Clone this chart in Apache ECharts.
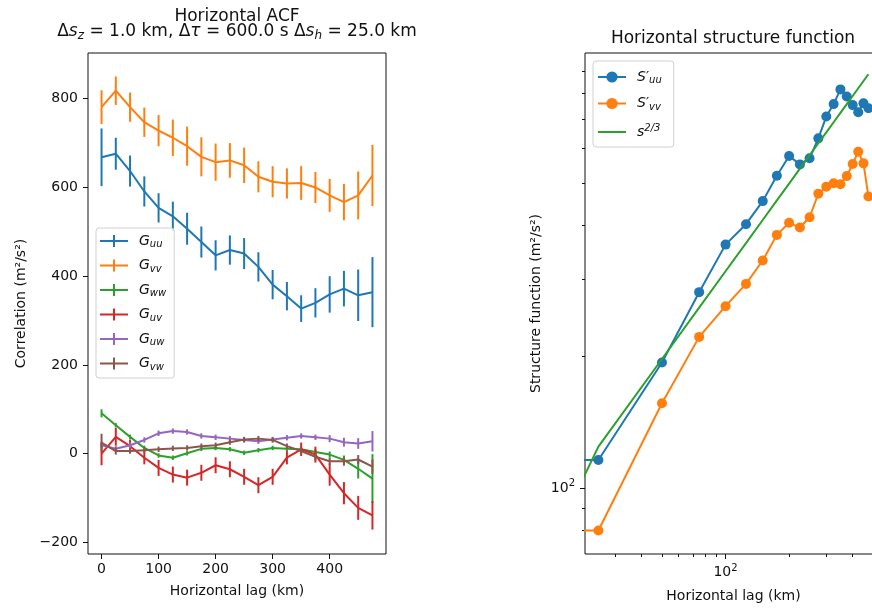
<!DOCTYPE html>
<html>
<head>
<meta charset="utf-8">
<script src="https://cdn.jsdelivr.net/npm/echarts@6/dist/echarts.min.js"></script>
<style>
html, body { margin: 0; background: #fff; }
#main { width: 872px; height: 608px; }
</style>
</head>
<body>
<div id="main"></div>
<script>
// Horizontal ACF (left) + horizontal structure function (right, log-log)
var FONT = 'DejaVu Sans';
var INK = '#111';

// ---- left panel: ACF with error bars
var lag = [0, 25, 50, 75, 100, 125, 150, 175, 200, 225, 250, 275, 300, 325, 350, 375, 400, 425, 450, 475];
var Guu = [668, 676, 637, 591, 554, 535, 507, 477, 447, 459, 451, 421, 381, 355, 327, 340, 359, 372, 357, 364];
var GuuErr = [65, 36, 35, 34, 33, 33, 36, 35, 34, 33, 35, 33, 33, 32, 30, 33, 41, 40, 58, 79];
var Gvv = [781, 818, 781, 747, 728, 712, 693, 669, 657, 661, 650, 624, 613, 609, 610, 600, 582, 567, 582, 627];
var GvvErr = [38, 32, 33, 33, 35, 41, 44, 44, 42, 39, 40, 35, 35, 34, 38, 35, 37, 41, 54, 69];
var Gww = [91, 64, 38, 13, -4, -9, 1, 11, 13, 10, 2, 8, 13, 11, 10, 4, -2, -14, -34, -56];
var GwwErr = [9, 5, 5, 5, 5, 5, 5, 5, 5, 5, 5, 5, 5, 5, 5, 6, 7, 10, 22, 55];
var Guv = [0, 38, 17, -9, -32, -47, -54, -43, -26, -35, -52, -71, -52, -9, 10, -2, -47, -89, -122, -139];
var GuvErr = [26, 20, 15, 15, 18, 18, 18, 18, 18, 18, 18, 18, 18, 15, 15, 18, 25, 25, 27, 32];
var Guw = [19, 11, 19, 31, 46, 51, 49, 40, 37, 34, 31, 28, 32, 36, 40, 37, 34, 26, 23, 28];
var GuwErr = [6, 6, 6, 6, 6, 6, 6, 6, 6, 6, 6, 6, 6, 6, 6, 6, 8, 10, 12, 23];
var Gvw = [25, 6, 6, 8, 10, 12, 13, 17, 19, 26, 32, 34, 31, 17, 6, -7, -17, -17, -13, -29];
var GvwErr = [20, 8, 6, 6, 6, 6, 6, 6, 6, 6, 6, 6, 6, 6, 6, 8, 8, 10, 10, 16];
var acfTicksX = [0, 100, 200, 300, 400];
var acfTicksY = [-200, 0, 200, 400, 600, 800];

// ---- right panel: structure function
var sLag = [0, 25, 50, 75, 100, 125, 150, 175, 200, 225, 250, 275, 300, 325, 350, 375, 400, 425, 450, 475];
var Suu = [116, 116, 194, 281, 361, 402, 454, 519, 576, 551, 569, 632, 709, 757, 818, 788, 753, 725, 760, 741];
var Svv = [80, 80, 156.5, 222, 261, 293.5, 332, 380, 405, 395, 417, 472, 490, 499, 496, 518, 552, 589, 554, 465];
var sFit = [0, 124.5, 197.6, 258.9, 313.7, 364, 411, 455.6, 498, 538.7, 577.9, 615.8, 652.4, 688, 723, 757, 790, 823, 855, 886];
var logMajor = [100];
var logMinorX = [30, 40, 50, 60, 70, 80, 90, 200, 300, 400, 500];
var logMinorY = [80, 90, 200, 300, 400, 500, 600, 700, 800, 900];

var names = ['Guu', 'Gvv', 'Gww', 'Guv', 'Guw', 'Gvw'];
var colors = ['#1f77b4', '#ff7f0e', '#2ca02c', '#d62728', '#9467bd', '#8c564b'];
var acf = [Guu, Gvv, Gww, Guv, Guw, Gvw];
var acfErr = [GuvErr, GvvErr, GwwErr, GuvErr, GuwErr, GvwErr];
acfErr[0] = GuuErr;

// log axes can't show 0: clip like matplotlib does
function pos(v) { return v > 0 ? v : 1e-300; }

var rich = {
  i: { fontStyle: 'italic', fontSize: 14, fontFamily: FONT, color: INK, verticalAlign: 'middle' },
  n: { fontSize: 14, fontFamily: FONT, color: INK, verticalAlign: 'middle' },
  sub: { fontStyle: 'italic', fontSize: 10, fontFamily: FONT, color: INK, padding: [7, 0, 0, 0], verticalAlign: 'middle' },
  sup: { fontStyle: 'italic', fontSize: 10, fontFamily: FONT, color: INK, padding: [0, 0, 8, 0], verticalAlign: 'middle' }
};
var titleRich = {
  i: { fontStyle: 'italic', fontSize: 17, fontFamily: FONT, color: INK, verticalAlign: 'middle' },
  n: { fontSize: 17, fontFamily: FONT, color: INK, verticalAlign: 'middle' },
  sub: { fontStyle: 'italic', fontSize: 12, fontFamily: FONT, color: INK, padding: [8, 0, 0, 0], verticalAlign: 'middle' }
};

var series = [];
names.forEach(function(n, k) {
  var c = colors[k];
  series.push({
    type: 'line', name: n, xAxisIndex: 0, yAxisIndex: 0,
    data: lag.map(function(x, i) { return [x, acf[k][i]]; }),
    symbol: 'none', lineStyle: { color: c, width: 2 }, itemStyle: { color: c },
    z: 2 + k, animation: false
  });
  series.push({
    type: 'custom', name: n, xAxisIndex: 0, yAxisIndex: 0,
    data: lag.map(function(x, i) { return [x, acf[k][i] - acfErr[k][i], acf[k][i] + acfErr[k][i]]; }),
    encode: { x: 0, y: [1, 2] },
    itemStyle: { color: c }, z: 2 + k, animation: false,
    renderItem: function(params, api) {
      var a = api.coord([api.value(0), api.value(1)]);
      var b = api.coord([api.value(0), api.value(2)]);
      return { type: 'line', shape: { x1: a[0], y1: a[1], x2: b[0], y2: b[1] },
        style: { stroke: c, lineWidth: 2 } };
    }
  });
});

function sfSeries(name, ys, color, marker, z) {
  return {
    type: 'line', name: name, xAxisIndex: 1, yAxisIndex: 1, clip: true,
    data: sLag.map(function(x, i) {
      var d = { value: [pos(x), pos(ys[i])] };
      if (x <= 0 || !marker) d.symbol = 'none';
      return d;
    }),
    symbol: marker ? 'circle' : 'none', symbolSize: 10, showAllSymbol: true,
    lineStyle: { color: color, width: 2 }, itemStyle: { color: color },
    z: z, animation: false
  };
}
series.push(sfSeries("S'uu", Suu, colors[0], true, 2));
series.push(sfSeries("S'vv", Svv, colors[1], true, 3));
series.push(sfSeries('s23', sFit, colors[2], false, 4));

var tickStyle = { show: true, inside: false, length: 5, lineStyle: { color: INK, width: 1 } };
var labelStyle = { color: INK, fontFamily: FONT, fontSize: 14 };
var nameStyle = { color: INK, fontFamily: FONT, fontSize: 14 };
var noLine = { show: false, onZero: false };

function minus(v) { return String(v).replace('-', '\u2212'); }
function logLabel(v) { return Math.abs(v - 100) < 1e-6 ? '10{sup|2}' : ''; }
var logRich = { sup: { fontSize: 10, fontFamily: FONT, color: INK, padding: [0, 0, 9, 0] } };

var chart = echarts.init(document.getElementById('main'), null, { renderer: 'canvas' });
chart.setOption({
  animation: false,
  backgroundColor: '#fff',
  title: [
    { text: 'Horizontal ACF', left: 237, top: 8, textAlign: 'center', padding: 0,
      textStyle: { fontFamily: FONT, fontSize: 17, fontWeight: 'normal', color: INK } },
    { text: '{n|Δ}{i|s}{sub|z}{n| = 1.0 km, Δ}{i|τ}{n| = 600.0 s Δ}{i|s}{sub|h}{n| = 25.0 km}',
      left: 237, top: 22, textAlign: 'center', padding: 0,
      textStyle: { fontFamily: FONT, fontSize: 17, fontWeight: 'normal', color: INK, rich: titleRich } },
    { text: 'Horizontal structure function', left: 733, top: 30, textAlign: 'center', padding: 0,
      textStyle: { fontFamily: FONT, fontSize: 17, fontWeight: 'normal', color: INK } }
  ],
  grid: [
    { left: 88, top: 53, width: 298, height: 501, show: true, borderColor: INK, borderWidth: 1,
      backgroundColor: 'transparent', outerBoundsMode: 'none', containLabel: false },
    { left: 585, top: 53, width: 297, height: 501, show: true, borderColor: INK, borderWidth: 1,
      backgroundColor: 'transparent', outerBoundsMode: 'none', containLabel: false }
  ],
  legend: [
    {
      orient: 'vertical', left: 96, top: 228, padding: [6, 8, 6, 4], itemGap: 9,
      itemWidth: 28, itemHeight: 12,
      backgroundColor: 'rgba(255,255,255,0.8)', borderColor: '#d0d0d0', borderWidth: 1, borderRadius: 3,
      data: names.map(function(n, k) {
        return { name: n, icon: 'path://M0,5H28V7H0Z M13,0H15V12H13Z', itemStyle: { color: colors[k] } };
      }),
      formatter: function(n) { return '{i|G}{sub|' + n.slice(1) + '}'; },
      textStyle: { fontFamily: FONT, fontSize: 14, color: INK, padding: [0, 0, 0, 6], rich: rich },
      selectedMode: false
    },
    {
      orient: 'vertical', left: 593, top: 61, padding: [9, 12, 8, 4], itemGap: 11,
      itemWidth: 28, itemHeight: 14,
      backgroundColor: 'rgba(255,255,255,0.8)', borderColor: '#d0d0d0', borderWidth: 1, borderRadius: 3,
      data: [
        { name: "S'uu" },
        { name: "S'vv" },
        { name: 's23', icon: 'path://M0,6H28V8H0Z', itemStyle: { color: colors[2] } }
      ],
      formatter: function(n) {
        if (n === 's23') return '{i|s}{sup|2/3}';
        return '{i|S}{n|′}{sub|' + n.slice(2) + '}';
      },
      textStyle: { fontFamily: FONT, fontSize: 14, color: INK, padding: [0, 0, 0, 6], rich: rich },
      selectedMode: false
    }
  ],
  xAxis: [
    { type: 'value', gridIndex: 0, min: -23.75, max: 498.75,
      axisLine: noLine, splitLine: { show: false },
      axisTick: Object.assign({ customValues: acfTicksX }, tickStyle),
      axisLabel: Object.assign({ customValues: acfTicksX, margin: 8, formatter: minus }, labelStyle),
      name: 'Horizontal lag (km)', nameLocation: 'middle', nameGap: 30, nameTextStyle: nameStyle },
    { type: 'log', logBase: 10, gridIndex: 1, min: 21.6, max: 550.7,
      axisLine: noLine, splitLine: { show: false }, minorTick: { show: false },
      axisTick: Object.assign({ customValues: logMajor }, tickStyle),
      axisLabel: Object.assign({ customValues: logMajor, margin: 9, formatter: logLabel, rich: logRich }, labelStyle),
      name: 'Horizontal lag (km)', nameLocation: 'middle', nameGap: 35, nameTextStyle: nameStyle },
    { type: 'log', logBase: 10, gridIndex: 1, min: 21.6, max: 550.7, position: 'bottom',
      axisLine: noLine, splitLine: { show: false },
      axisTick: { show: true, customValues: logMinorX, length: 3, lineStyle: { color: INK, width: 1 } },
      axisLabel: { show: false } }
  ],
  yAxis: [
    { type: 'value', gridIndex: 0, min: -226, max: 903,
      axisLine: noLine, splitLine: { show: false },
      axisTick: Object.assign({ customValues: acfTicksY }, tickStyle),
      axisLabel: Object.assign({ customValues: acfTicksY, margin: 10, formatter: minus }, labelStyle),
      name: 'Correlation (m²/s²)', nameLocation: 'middle', nameGap: 60, nameTextStyle: nameStyle },
    { type: 'log', logBase: 10, gridIndex: 1, min: 70.7, max: 991,
      axisLine: noLine, splitLine: { show: false }, minorTick: { show: false },
      axisTick: Object.assign({ customValues: logMajor }, tickStyle),
      axisLabel: Object.assign({ customValues: logMajor, margin: 10, formatter: logLabel, rich: logRich }, labelStyle),
      name: 'Structure function (m²/s²)', nameLocation: 'middle', nameGap: 42, nameTextStyle: nameStyle },
    { type: 'log', logBase: 10, gridIndex: 1, min: 70.7, max: 991, position: 'left',
      axisLine: noLine, splitLine: { show: false },
      axisTick: { show: true, customValues: logMinorY, length: 3, lineStyle: { color: INK, width: 1 } },
      axisLabel: { show: false } }
  ],
  series: series
});
</script>
</body>
</html>
